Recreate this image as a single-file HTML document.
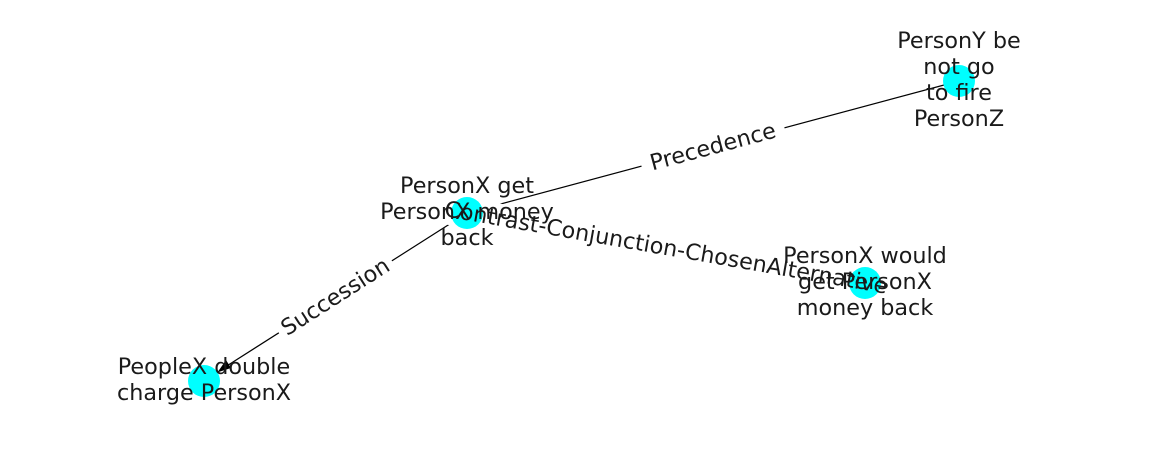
<!DOCTYPE html>
<html><head><meta charset="utf-8"><style>body{margin:0;background:#fff}svg{display:block}</style></head>
<body>
<svg width="1162" height="462" viewBox="0 0 1162 462" xmlns="http://www.w3.org/2000/svg" font-family="DejaVu Sans, Liberation Sans, sans-serif" font-size="22.3" fill="#1a1a1a">
<g stroke="#000" stroke-width="1.2">
<line x1="467" y1="213" x2="959" y2="81"/>
<line x1="467" y1="213" x2="865" y2="283"/>
<line x1="467" y1="213" x2="222" y2="369"/>
</g>
<polygon points="217.5,372.4 226,360 231,368" fill="#000"/>
<g fill="#fff">
<rect x="-74" y="-15" width="148" height="30" transform="translate(713,147) rotate(-15)"/>
<rect x="-220" y="-15" width="440" height="30" transform="translate(666,248) rotate(9.97)"/>
<rect x="-67" y="-15" width="134" height="30" transform="translate(335.5,297) rotate(-32.6)"/>
</g>
<g fill="#00ffff">
<circle cx="467" cy="213" r="16"/>
<circle cx="959" cy="81" r="16"/>
<circle cx="865" cy="283" r="16"/>
<circle cx="204" cy="381" r="16"/>
</g>
<g text-anchor="middle" dominant-baseline="central">
<text transform="translate(713,147) rotate(-15)">Precedence</text>
<text transform="translate(666,248) rotate(9.97)">Contrast-Conjunction-ChosenAlternative</text>
<text transform="translate(335.5,297) rotate(-32.6)">Succession</text>
<text x="467" y="186">PersonX get</text>
<text x="467" y="212">PersonX money</text>
<text x="467" y="238">back</text>
<text x="959" y="41">PersonY be</text>
<text x="959" y="67">not go</text>
<text x="959" y="93">to fire</text>
<text x="959" y="119">PersonZ</text>
<text x="865" y="256">PersonX would</text>
<text x="865" y="282">get PersonX</text>
<text x="865" y="308">money back</text>
<text x="204" y="367">PeopleX double</text>
<text x="204" y="393">charge PersonX</text>
</g>
</svg>
</body></html>
